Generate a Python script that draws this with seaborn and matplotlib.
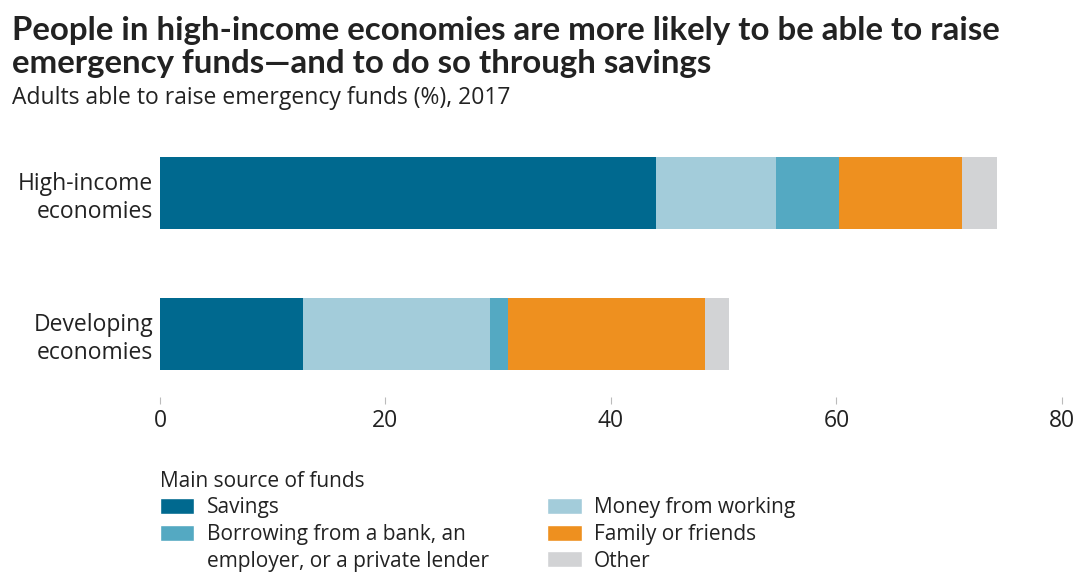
import numpy as np
import pandas as pd
import matplotlib
matplotlib.use("Agg")
import matplotlib.pyplot as plt
from matplotlib.patches import Patch
import seaborn as sns

# Adults able to raise emergency funds (%), 2017, by main source of funds
groups = ["High-income\neconomies", "Developing\neconomies"]
sources = ["Savings", "Money from working", "Borrowing", "Family or friends", "Other"]
savings = [44.0, 12.7]
money_from_working = [10.6, 16.6]
borrowing = [5.6, 1.6]
family_or_friends = [10.9, 17.4]
other = [3.1, 2.2]

colors = {
    "Savings": "#00698f",
    "Money from working": "#a3ccda",
    "Borrowing": "#54a9c2",
    "Family or friends": "#ee901f",
    "Other": "#d2d3d5",
}

sns.set_theme(style="white")
plt.rcParams["font.family"] = ["Open Sans", "DejaVu Sans"]
BODY = 16.5
LEGEND = 15

df = pd.DataFrame({
    "group": groups,
    "Savings": savings,
    "Money from working": money_from_working,
    "Borrowing": borrowing,
    "Family or friends": family_or_friends,
    "Other": other,
})
# running totals so the segments can be layered from the longest down
cum = df[sources].cumsum(axis=1)

fig = plt.figure(figsize=(10.83, 5.74), dpi=100)
ax = fig.add_axes([0.1477, 0.3084, 0.9806 - 0.1477, 0.7375 - 0.3084])

for src in reversed(sources):
    sns.barplot(x=cum[src], y=df["group"], orient="h", color=colors[src],
                width=0.51, saturation=1, linewidth=0, ax=ax)

ax.set_xlim(0, 80)
ax.set_ylim(1.447, -0.3)
ax.set_xticks([0, 20, 40, 60, 80])
ax.set_xlabel("")
ax.set_ylabel("")
for s in ax.spines.values():
    s.set_visible(False)
ax.tick_params(axis="x", bottom=True, direction="out", length=5, width=0.8,
               color="#bbbbbb", pad=4, labelsize=BODY, labelcolor="#222222")
ax.tick_params(axis="y", left=False, length=0, pad=5, labelsize=BODY,
               labelcolor="#222222")
for lab in ax.get_yticklabels():
    lab.set_horizontalalignment("right")
    lab.set_multialignment("right")
    lab.set_linespacing(1.25)

fig.text(0.011, 0.972,
         "People in high-income economies are more likely to be able to raise\n"
         "emergency funds\u2014and to do so through savings",
         ha="left", va="top", fontsize=23.8, fontweight="bold", color="#222222",
         family=["Lato", "DejaVu Sans"], linespacing=1.18)
fig.text(0.011, 0.850, "Adults able to raise emergency funds (%), 2017",
         ha="left", va="top", fontsize=BODY, color="#222222")

blank = Patch(facecolor="none", edgecolor="none")
handles = [
    Patch(facecolor=colors["Savings"]),
    Patch(facecolor=colors["Borrowing"]),
    blank,
    Patch(facecolor=colors["Money from working"]),
    Patch(facecolor=colors["Family or friends"]),
    Patch(facecolor=colors["Other"]),
]
labels = [
    "Savings",
    "Borrowing from a bank, an",
    "employer, or a private lender",
    "Money from working",
    "Family or friends",
    "Other",
]
leg = fig.legend(handles, labels, ncol=2, loc="upper left",
                 bbox_to_anchor=(0.1477, 0.180), frameon=False,
                 title="Main source of funds", title_fontsize=LEGEND,
                 fontsize=LEGEND, alignment="left", borderpad=0, borderaxespad=0,
                 handlelength=1.65, handleheight=0.8, handletextpad=0.6,
                 columnspacing=2.8, labelspacing=0.27)
for t in leg.get_texts():
    t.set_color("#222222")
leg.get_title().set_color("#222222")

fig.savefig("out.png", dpi=100)
